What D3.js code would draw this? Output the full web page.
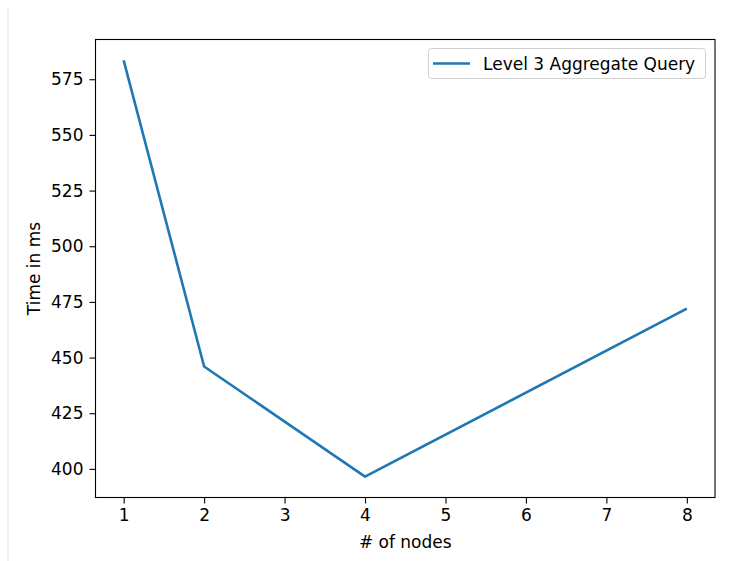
<!DOCTYPE html>
<html>
<head>
<meta charset="utf-8">
<script src="https://cdn.jsdelivr.net/npm/d3@7"></script>
<style>
  html, body { margin: 0; padding: 0; background: #fff; }
  svg { display: block; }
  text { font-family: "DejaVu Sans", sans-serif; fill: #000; }
</style>
</head>
<body>
<svg id="chart" width="751" height="561"></svg>
<script>
// Query time by cluster size
const nodes = [1, 2, 4, 8];
const timeMs = [583.5, 446, 396.5, 472];
const xTicks = [1, 2, 3, 4, 5, 6, 7, 8];
const yTicks = [400, 425, 450, 475, 500, 525, 550, 575];
const seriesName = "Level 3 Aggregate Query";

const svg = d3.select("#chart");
const W = 751, H = 561;
const plot = { left: 95.5, right: 715, top: 39.5, bottom: 497.5 };

// thin frame line at the left edge of the page
svg.append("line")
  .attr("x1", 8).attr("x2", 8).attr("y1", 7).attr("y2", H)
  .attr("stroke", "#e6e6e6").attr("stroke-width", 1);

// 5% padding around the data range on each axis
const pad = (lo, hi) => { const d = (hi - lo) * 0.05; return [lo - d, hi + d]; };
const x = d3.scaleLinear().domain(pad(d3.min(nodes), d3.max(nodes))).range([plot.left, plot.right]);
const y = d3.scaleLinear().domain(pad(d3.min(timeMs), d3.max(timeMs))).range([plot.bottom, plot.top]);

const fontSize = 17;

// x axis
const gx = svg.append("g").attr("transform", `translate(0,${plot.bottom})`)
  .call(d3.axisBottom(x).tickValues(xTicks).tickFormat(d3.format("d")).tickSize(6).tickPadding(5));
// y axis
const gy = svg.append("g").attr("transform", `translate(${plot.left},0)`)
  .call(d3.axisLeft(y).tickValues(yTicks).tickFormat(d3.format("d")).tickSize(6).tickPadding(6));

[gx, gy].forEach(g => {
  g.select(".domain").remove();
  g.selectAll(".tick line").attr("stroke", "#000").attr("stroke-width", 1.1);
  g.selectAll(".tick text").attr("font-size", fontSize).attr("font-family", "DejaVu Sans").attr("fill", "#000");
});

// plot frame
svg.append("rect")
  .attr("x", plot.left).attr("y", plot.top)
  .attr("width", plot.right - plot.left).attr("height", plot.bottom - plot.top)
  .attr("fill", "none").attr("stroke", "#000").attr("stroke-width", 1.1);

// series line
const line = d3.line().x((d, i) => x(nodes[i])).y(d => y(d));
svg.append("path")
  .datum(timeMs)
  .attr("d", line)
  .attr("fill", "none")
  .attr("stroke", "#1f77b4")
  .attr("stroke-width", 2.6)
  .attr("stroke-linejoin", "round")
  .attr("stroke-linecap", "butt");

// axis titles
svg.append("text")
  .attr("x", (plot.left + plot.right) / 2).attr("y", 547.5)
  .attr("text-anchor", "middle").attr("font-size", fontSize)
  .text("# of nodes");
svg.append("text")
  .attr("transform", `translate(39.5,${(plot.top + plot.bottom) / 2}) rotate(-90)`)
  .attr("text-anchor", "middle").attr("font-size", fontSize)
  .text("Time in ms");

// legend
const lg = svg.append("g");
lg.append("rect")
  .attr("x", 428.5).attr("y", 48.5).attr("width", 277).attr("height", 30)
  .attr("rx", 3).attr("fill", "#fff").attr("fill-opacity", 0.8)
  .attr("stroke", "#d0d0d0").attr("stroke-width", 1);
lg.append("line")
  .attr("x1", 433).attr("x2", 470).attr("y1", 63.5).attr("y2", 63.5)
  .attr("stroke", "#1f77b4").attr("stroke-width", 2.6);
lg.append("text")
  .attr("x", 483).attr("y", 69.5).attr("font-size", fontSize)
  .text(seriesName);
</script>
</body>
</html>
